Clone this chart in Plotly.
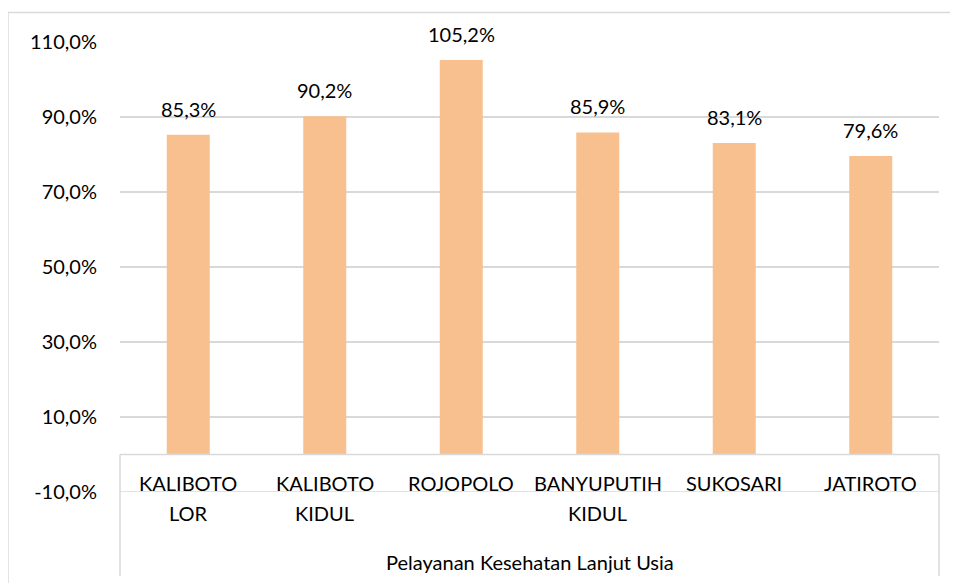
import plotly.graph_objects as go

categories = ["KALIBOTO<br>LOR", "KALIBOTO<br>KIDUL", "ROJOPOLO", "BANYUPUTIH<br>KIDUL", "SUKOSARI", "JATIROTO"]
values = [85.3, 90.2, 105.2, 85.9, 83.1, 79.6]
group_label = "Pelayanan Kesehatan Lanjut Usia"
tick_vals = [-10, 10, 30, 50, 70, 90, 110]


def pct(v):
    return f"{v:.1f}%".replace(".", ",")


tick_text = [pct(v) for v in tick_vals]
value_text = [pct(v) for v in values]

FONT = "Lato"
BAR = "#F9C08F"
GRID = "#D9D9D9"
TXT = dict(family=FONT, size=20, color="#000000")

fig = go.Figure()
fig.add_trace(go.Bar(
    x=categories, y=values,
    marker=dict(color=BAR, line=dict(width=0)),
    hoverinfo="skip",
))

annotations = []
for c, v, t in zip(categories, values, value_text):
    annotations.append(dict(x=c, y=v, xref="x", yref="y", text=t, showarrow=False,
                            yanchor="bottom", yshift=12, font=TXT))
    for i, line in enumerate(c.split("<br>")):
        annotations.append(dict(x=c, y=0, xref="x", yref="y", text=line, showarrow=False,
                                yanchor="middle", yshift=-28 - 30 * i, font=TXT))
annotations.append(dict(x=0.5, y=-0.1556, xref="paper", yref="paper", text=group_label,
                        showarrow=False, yanchor="middle", font=TXT))

shapes = [
    # outer chart border
    dict(type="rect", xref="paper", yref="paper", x0=-0.1368, x1=1.03, y0=-0.3, y1=1.0656,
         line=dict(color=GRID, width=1.5), fillcolor="rgba(0,0,0,0)", layer="below"),
    # lowest gridline (at the axis minimum)
    dict(type="line", xref="paper", yref="y", x0=0, x1=1, y0=tick_vals[0], y1=tick_vals[0],
         line=dict(color=GRID, width=1.5), layer="below"),
    # category box
    dict(type="line", xref="paper", yref="y", x0=0, x1=1, y0=0, y1=0, line=dict(color=GRID, width=1.5)),
    dict(type="line", xref="paper", yref="paper", x0=0, x1=0, y0=1 / 12, y1=-0.1867, line=dict(color=GRID, width=1.5)),
    dict(type="line", xref="paper", yref="paper", x0=1, x1=1, y0=1 / 12, y1=-0.1867, line=dict(color=GRID, width=1.5)),
]

fig.update_layout(
    width=950, height=575,
    margin=dict(l=112, r=19, t=34, b=91),
    paper_bgcolor="white", plot_bgcolor="white",
    bargap=0.685,
    showlegend=False,
    annotations=annotations,
    shapes=shapes,
    xaxis=dict(showticklabels=False, showgrid=False, zeroline=False, showline=False, ticks=""),
    yaxis=dict(range=[-10, 110], tickvals=tick_vals, ticktext=tick_text,
               showgrid=True, gridcolor=GRID, gridwidth=1.5, zeroline=False, showline=False,
               ticklabelstandoff=22, tickfont=TXT),
)

fig.write_html("out.html")
